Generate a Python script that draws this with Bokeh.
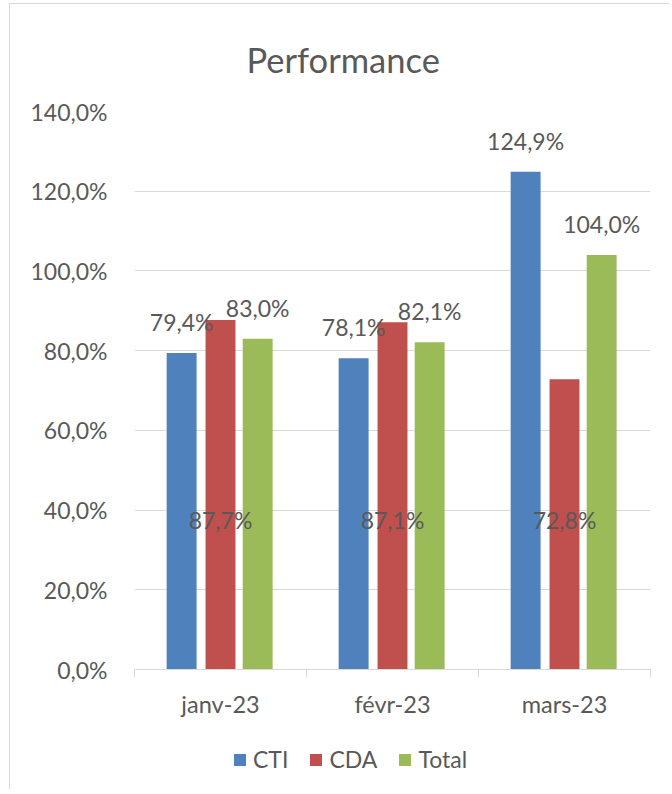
from bokeh.plotting import figure
from bokeh.layouts import column
from bokeh.models import (ColumnDataSource, Range1d, FixedTicker, Legend, LegendItem)
from bokeh.transform import dodge
from bokeh.core.properties import value
from bokeh.embed import file_html
from bokeh.resources import INLINE

# ---- data ----
months = ["janv-23", "févr-23", "mars-23"]
cti = [79.4, 78.1, 124.9]
cda = [87.7, 87.1, 72.8]
total = [83.0, 82.1, 104.0]
series_names = ["CTI", "CDA", "Total"]
y_ticks = [0, 20, 40, 60, 80, 100, 120, 140]
y_tick_labels = ["0,0%", "20,0%", "40,0%", "60,0%", "80,0%", "100,0%", "120,0%", "140,0%"]
title_text = "Performance"

# ---- styles ----
colors = ["#4F81BD", "#C0504D", "#9BBB59"]
FONT = "Lato"
TXT = "#595959"
GRID = "#D9D9D9"
BAR_W = 0.174
OFFS = [-0.226, 0.0, 0.216]
CDA_LABEL_Y = 37.5


def pct(v):
    return f"{v:.1f}".replace(".", ",") + "%"


n = len(months)
centers = [i + 0.5 for i in range(n)]  # category slot centres on the axis scale

src = ColumnDataSource(dict(
    month=months, pos=centers, CTI=cti, CDA=cda, Total=total,
    CTI_lbl=[pct(v) for v in cti],
    CDA_lbl=[pct(v) for v in cda],
    Total_lbl=[pct(v) for v in total],
))

p = figure(x_range=Range1d(0, n), y_range=Range1d(0, 140),
           width=660, height=736, output_backend="svg", toolbar_location=None,
           min_border_left=124, min_border_right=20,
           min_border_top=107, min_border_bottom=71, title=title_text)
p.margin = (3, 0, 0, 9)
p.outline_line_color = None
p.styles = {"border-left": "1px solid #D9D9D9", "border-top": "1px solid #D9D9D9"}

# title
p.title.text_font = FONT
p.title.text_font_size = "34.5px"
p.title.text_font_style = "normal"
p.title.text_color = TXT
p.title.align = "left"
p.title.offset = 112
p.title.standoff = 64

# y axis
p.yaxis.ticker = FixedTicker(ticks=y_ticks)
p.yaxis.major_label_overrides = {t: l for t, l in zip(y_ticks, y_tick_labels)}
p.yaxis.axis_line_color = None
p.yaxis.major_tick_line_color = None
p.yaxis.minor_tick_line_color = None
p.yaxis.major_tick_out = 0
p.yaxis.major_tick_in = 0
p.yaxis.major_label_standoff = 27
p.yaxis.major_label_text_font = FONT
p.yaxis.major_label_text_font_size = "23px"
p.yaxis.major_label_text_color = TXT
p.ygrid.grid_line_color = GRID
p.xgrid.grid_line_color = None

# x axis: category names at slot centres, boundaries as minor ticks
xa = p.xaxis[0]
xa.ticker = FixedTicker(ticks=centers, minor_ticks=list(range(n + 1)))
xa.major_label_overrides = {c: m for c, m in zip(centers, months)}
xa.axis_line_color = GRID
xa.major_tick_line_color = None
xa.major_tick_out = 0
xa.major_tick_in = 0
xa.minor_tick_line_color = GRID
xa.minor_tick_out = 8
xa.minor_tick_in = 0
xa.major_label_standoff = 12
xa.major_label_text_font = FONT
xa.major_label_text_font_size = "23.5px"
xa.major_label_text_color = TXT

# bars
for name, col, off in zip(series_names, colors, OFFS):
    p.vbar(x=dodge("pos", off), top=name, width=BAR_W,
           bottom=0, source=src, fill_color=col, line_color=None)

# labels
common = dict(source=src, text_align="center", text_font=value(FONT),
              text_font_size="23px", text_color=TXT)
p.text(x=dodge("pos", OFFS[0]), y="CTI", text="CTI_lbl",
       text_baseline="bottom", y_offset=-17, **common)
p.text(x=dodge("pos", OFFS[2]), y="Total", text="Total_lbl",
       text_baseline="bottom", y_offset=-17, **common)
p.text(x=dodge("pos", OFFS[1]), y=CDA_LABEL_Y, text="CDA_lbl",
       text_baseline="middle", **common)

# legend strip below the chart (series renderers with no visible extent)
lg = figure(x_range=Range1d(0, n), y_range=Range1d(-2, -1), width=660, height=50,
            output_backend="svg", toolbar_location=None,
            x_axis_location=None, y_axis_location=None,
            min_border_left=124, min_border_right=20, min_border_top=0, min_border_bottom=0)
lg.margin = (0, 0, 0, 9)
lg.outline_line_color = None
lg.grid.grid_line_color = None
lg.styles = {"border-left": "1px solid #D9D9D9"}
leg_renderers = []
for name, col, off in zip(series_names, colors, OFFS):
    rr = lg.vbar(x=dodge("pos", off), top=name, bottom=name, width=0, source=src,
                 fill_color=col, line_color=None)
    leg_renderers.append(rr)

legend = Legend(items=[LegendItem(label=nm, renderers=[r]) for nm, r in zip(series_names, leg_renderers)],
                orientation="horizontal", location=(98, 16),
                glyph_width=15, glyph_height=15, label_standoff=6, spacing=20,
                padding=0, margin=0, border_line_color=None, background_fill_alpha=0,
                label_text_font=FONT, label_text_font_size="23px", label_text_color=TXT)
lg.add_layout(legend)

layout = column(p, lg, spacing=0)
open("out.html", "w").write(file_html(layout, INLINE))
